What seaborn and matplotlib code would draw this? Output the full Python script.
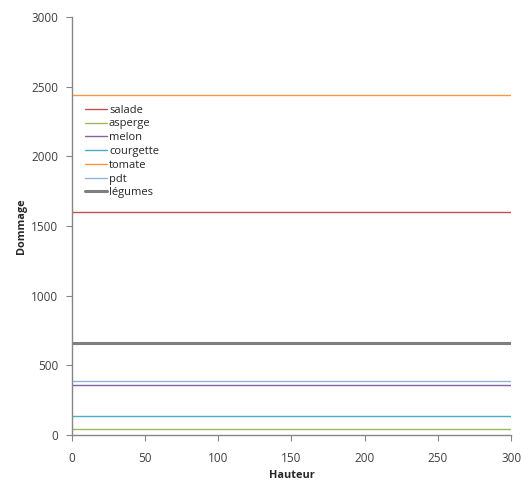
import pandas as pd
import seaborn as sns
import matplotlib.pyplot as plt

# --- Data (constant damage per crop over height) ---
HAUTEUR = [0, 300]
SERIES = ['salade', 'asperge', 'melon', 'courgette', 'tomate', 'pdt', 'légumes']
DOMMAGE = [1600, 43, 360, 137, 2440, 388, 658]
COLORS = ['#C0504D', '#9BBB59', '#8064A2', '#4BACC6', '#F79646', '#95B3D7', '#7F7F7F']
WIDTHS = [1.0, 1.0, 1.0, 1.0, 1.0, 1.0, 2.2]

rows = []
for name, val in zip(SERIES, DOMMAGE):
    for h in HAUTEUR:
        rows.append({'Hauteur': h, 'Dommage': val, 'serie': name})
df = pd.DataFrame(rows)

sns.set_style('ticks')
plt.rcParams['font.family'] = ['Open Sans', 'DejaVu Sans']

fig = plt.figure(figsize=(5.21, 4.82), dpi=100)
ax = fig.add_axes([0.138, 0.0975, 0.843, 0.8675])

for name, col, lw in zip(SERIES, COLORS, WIDTHS):
    sns.lineplot(data=df[df['serie'] == name], x='Hauteur', y='Dommage',
                 color=col, linewidth=lw, label=name, ax=ax)

ax.set_xlim(0, 300)
ax.set_ylim(0, 3000)
ax.set_xticks(range(0, 301, 50))
ax.set_yticks(range(0, 3001, 500))
ax.tick_params(labelsize=8.5, colors='#868686', labelcolor='#404040', length=4, width=0.8)
ax.tick_params(axis='x', pad=8)
ax.tick_params(axis='y', pad=6)
for side in ['top', 'right']:
    ax.spines[side].set_visible(False)
for side in ['left', 'bottom']:
    ax.spines[side].set_color('#868686')
    ax.spines[side].set_linewidth(1.0)

ax.set_xlabel('Hauteur', fontsize=7.8, fontweight='bold', labelpad=4)
ax.set_ylabel('Dommage', fontsize=7.8, fontweight='bold', labelpad=3)

ax.legend(loc='upper left', bbox_to_anchor=(0.03, 0.79), frameon=False,
          fontsize=8, handlelength=2.0, handletextpad=0.15, labelspacing=0.25,
          borderpad=0, borderaxespad=0)

fig.savefig('out.png', dpi=100)
